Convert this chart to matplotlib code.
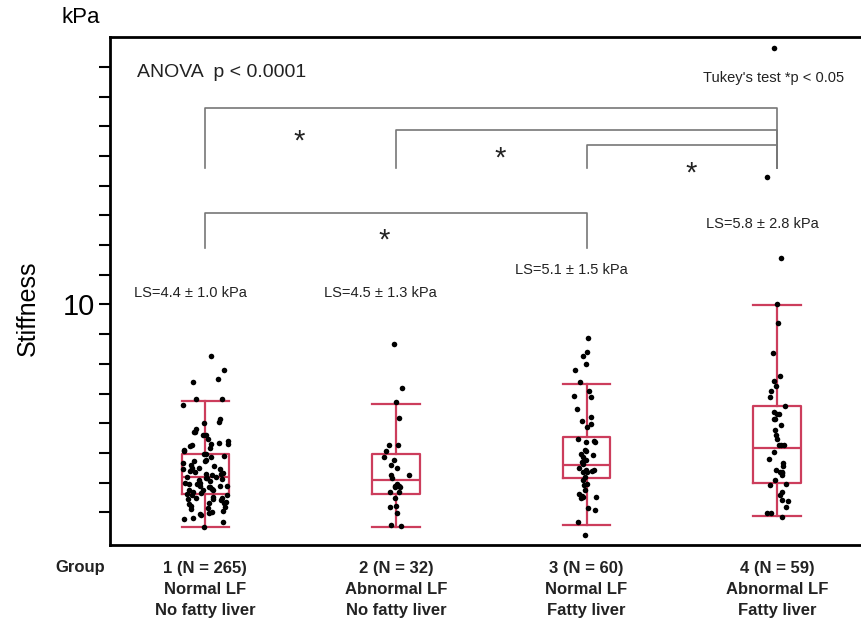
"""Liver stiffness by LF / fatty liver group: box plots with jittered points."""
import numpy as np
import matplotlib
matplotlib.use('Agg')
import matplotlib.pyplot as plt

plt.rcParams['font.family'] = ['Liberation Sans', 'DejaVu Sans']

# group labels
groups = ['1 (N = 265)\nNormal LF\nNo fatty liver',
          '2 (N = 32)\nAbnormal LF\nNo fatty liver',
          '3 (N = 60)\nNormal LF\nFatty liver',
          '4 (N = 59)\nAbnormal LF\nFatty liver']
ls_text = ['LS=4.4 ± 1.0 kPa', 'LS=4.5 ± 1.3 kPa', 'LS=5.1 ± 1.5 kPa', 'LS=5.8 ± 2.8 kPa']
ls_y = [10.4, 10.4, 11.17, 12.7]

# box statistics (kPa)
whislo = [2.49, 2.49, 2.58, 2.86]
q1 = [3.61, 3.61, 4.16, 4.00]
med = [4.20, 4.08, 4.59, 5.15]
q3 = [4.95, 4.95, 5.54, 6.57]
whishi = [6.74, 6.65, 7.32, 9.98]

# individual points (kPa), visible dots only
g1 = [8.27, 7.79, 7.49, 7.40, 6.82, 6.80, 6.60, 6.15, 6.05, 6.02, 5.80, 5.71, 5.70,
      5.60, 5.59, 5.48, 5.40, 5.35, 5.31, 5.30, 5.26, 5.24, 5.15, 5.10, 5.05, 4.98,
      4.96, 4.90, 4.85, 4.75, 4.74, 4.72, 4.65, 4.59, 4.55, 4.50, 4.48, 4.47, 4.46,
      4.40, 4.35, 4.31, 4.30, 4.29, 4.25, 4.20, 4.18, 4.15, 4.14, 4.13, 4.10, 4.05,
      4.00, 3.98, 3.97, 3.96, 3.90, 3.88, 3.87, 3.86, 3.85, 3.80, 3.76, 3.75, 3.74,
      3.70, 3.65, 3.60, 3.58, 3.57, 3.50, 3.48, 3.47, 3.46, 3.45, 3.40, 3.35, 3.31,
      3.30, 3.29, 3.20, 3.17, 3.15, 3.10, 3.04, 3.02, 2.97, 2.96, 2.90, 2.80, 2.79,
      2.67, 2.52]
g2 = [8.68, 7.18, 6.72, 6.18, 5.28, 5.28, 5.06, 4.87, 4.75, 4.60, 4.48, 4.27, 4.25,
      4.14, 3.97, 3.90, 3.88, 3.86, 3.86, 3.70, 3.69, 3.47, 3.20, 3.18, 2.97, 2.58, 2.53]
g3 = [8.88, 8.40, 8.27, 7.99, 7.79, 7.38, 7.10, 6.93, 6.88, 6.48, 6.21, 6.09, 5.98,
      5.87, 5.46, 5.40, 5.37, 5.37, 5.09, 5.06, 4.98, 4.93, 4.87, 4.75, 4.70, 4.64,
      4.50, 4.41, 4.41, 4.38, 4.36, 4.36, 4.20, 4.09, 3.97, 3.92, 3.75, 3.62, 3.55,
      3.53, 3.50, 3.48, 3.14, 3.08, 2.69, 2.24]
g4 = [18.64, 14.29, 11.57, 10.0, 9.39, 8.38, 7.60, 7.43, 7.26, 7.10, 6.88, 6.57, 6.37,
      6.32, 6.32, 6.15, 6.15, 5.93, 5.76, 5.59, 5.48, 5.26, 5.26, 5.26, 5.04, 4.81,
      4.66, 4.55, 4.44, 4.36, 4.36, 4.34, 4.25, 4.08, 3.97, 3.92, 3.70, 3.58, 3.41,
      3.38, 3.19, 2.97, 2.97, 2.83]
points = [g1, g2, g3, g4]

# Tukey comparisons
pairs = [(1, 4), (2, 4), (3, 4), (1, 3)]
bar_top = [16.63, 15.86, 15.36, 13.08]
bar_bottom = [14.59, 14.59, 14.59, 11.9]
star_x = [1.49, 2.545, 3.55, 1.94]
star_y = [15.69, 15.12, 14.62, 12.34]

RED = '#cc3d5c'
fig = plt.figure(figsize=(8.61, 6.2), dpi=100)
ax = fig.add_axes([0.1278, 0.121, 0.8722, 0.819])

pos = np.arange(1, 5)
stats = [dict(whislo=whislo[i], q1=q1[i], med=med[i], q3=q3[i], whishi=whishi[i],
              fliers=[]) for i in range(4)]
lp = dict(color=RED, linewidth=1.6)
ax.bxp(stats, positions=pos, widths=0.25, capwidths=0.25, showfliers=False,
       boxprops=lp, whiskerprops=lp, capprops=lp, medianprops=lp,
       manage_ticks=False, zorder=2)

# horizontal jitter only (wide cloud for group 1, narrow for the rest)
rng = np.random.default_rng(7)
for i, vals in enumerate(points):
    if i == 0:
        jit = rng.uniform(-0.12, 0.12, len(vals))
    else:
        jit = np.clip(rng.normal(0, 0.03, len(vals)), -0.12, 0.12)
    ax.scatter(pos[i] + jit, vals, s=16, color='black', zorder=3, linewidths=0)

for (a, b), top, bot in zip(pairs, bar_top, bar_bottom):
    ax.plot([a, a, b, b], [bot, top, top, bot], color='#777777', lw=1.2, zorder=1)
for sx, sy in zip(star_x, star_y):
    ax.text(sx, sy - 0.2, '*', fontsize=21, ha='center', va='center', color='#222222')

for i in range(4):
    ax.text(pos[i] - 0.08, ls_y[i], ls_text[i], fontsize=10.5, ha='center',
            va='center', color='#222222')

ax.text(0.644, 17.8, 'ANOVA  p < 0.0001', fontsize=14, ha='left', va='center',
        color='#222222')
ax.text(4.35, 17.63, "Tukey's test *p < 0.05", fontsize=10.5, ha='right',
        va='center', color='#222222')

ax.set_xlim(0.5, 4.44)
ax.set_ylim(1.9, 19)
ax.set_yticks(np.arange(3, 19))
ax.set_yticklabels(['10' if t == 10 else '' for t in range(3, 19)], fontsize=21)
ax.tick_params(axis='y', length=8, width=1.5, direction='out', pad=3)
ax.set_xticks(pos)
ax.set_xticklabels(groups, fontsize=12, fontweight='bold', color='#222222',
                   linespacing=1.5)
ax.tick_params(axis='x', length=0, pad=11.5)
for side in ['left', 'top', 'bottom']:
    ax.spines[side].set_linewidth(2)
ax.spines['right'].set_visible(False)

fig.text(0.094, 0.971, 'kPa', fontsize=16, ha='center', va='center')
fig.text(0.032, 0.503, 'Stiffness', fontsize=18, rotation=90, ha='center',
         va='center')
fig.text(0.064, 0.084, 'Group', fontsize=12, fontweight='bold', ha='left',
         va='center', color='#222222')

fig.savefig('out.png', dpi=100)
